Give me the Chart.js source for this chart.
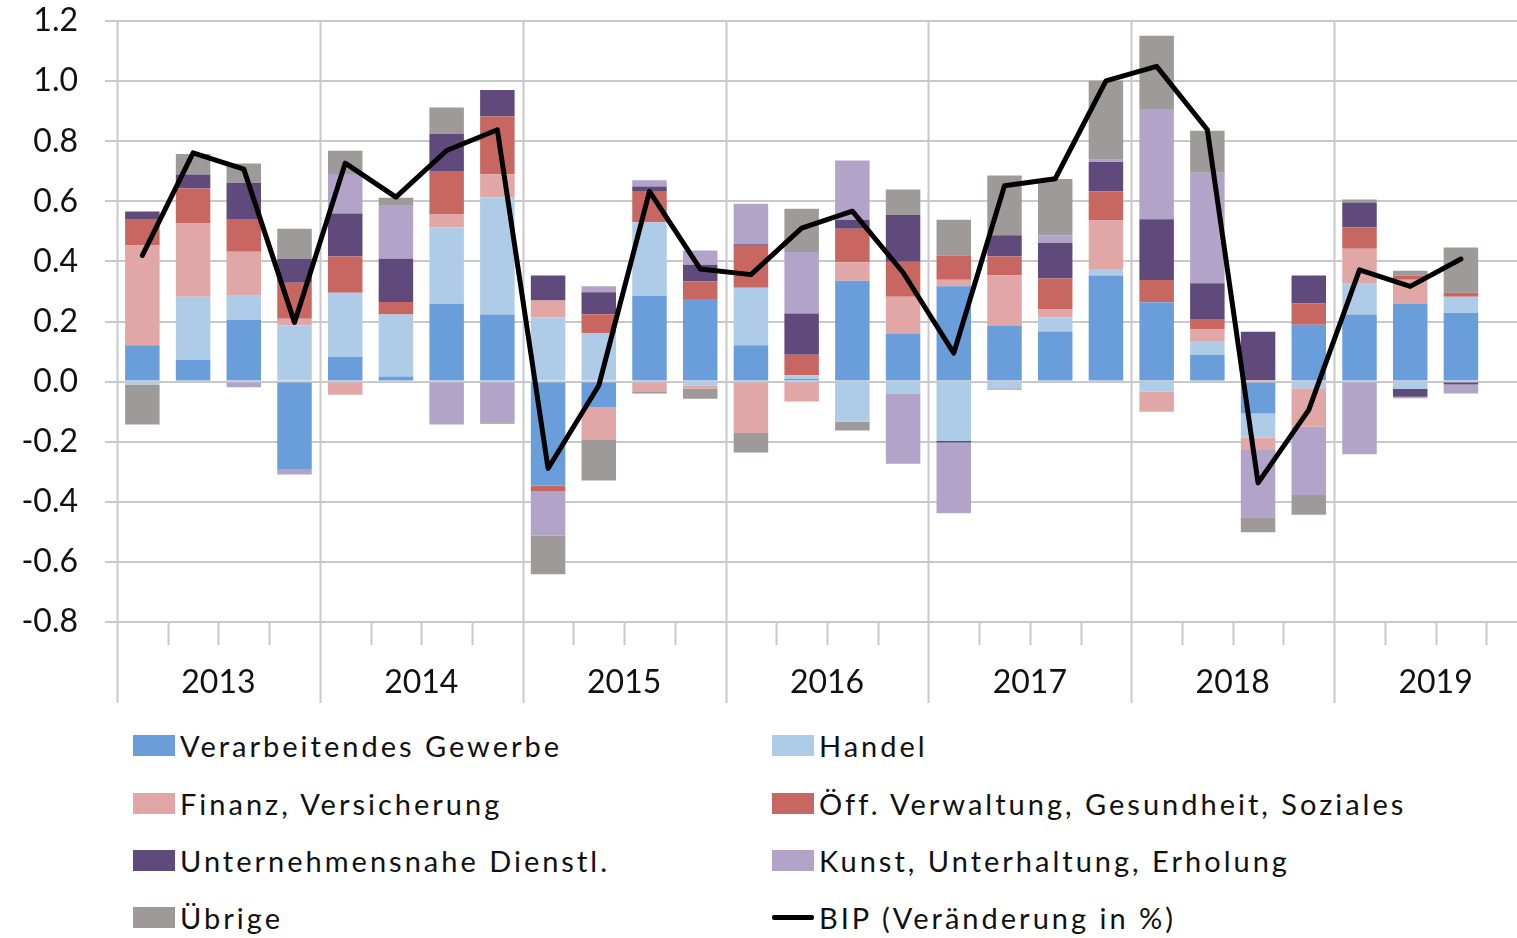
<!DOCTYPE html>
<html>
<head>
<meta charset="utf-8">
<script src="https://cdn.jsdelivr.net/npm/chart.js@4.4.1/dist/chart.umd.min.js"></script>
<style>
  html, body { margin: 0; padding: 0; background: #fff; overflow: hidden; width: 1517px; height: 938px; }
  #wrap { position: relative; width: 1545px; height: 712px; }
  #legend {
    position: absolute; left: 133px; top: 717px;
    display: grid; grid-template-columns: 639px auto; grid-auto-rows: 57.4px;
    font-family: Lato, "Open Sans", sans-serif; font-size: 29px; color: #111; letter-spacing: 3px;
  }
  .item { display: flex; align-items: center; white-space: nowrap; }
  .sw { width: 42px; height: 21px; margin-right: 5px; flex: none; }
  .sw.line { height: 5px; background: #000; border-radius: 2px; }
</style>
</head>
<body>
<div id="wrap"><canvas id="chart" width="1545" height="712"></canvas></div>
<div id="legend"></div>
<script>
// Quartale 2013 Q1 bis 2019 Q4 (Q4 2019 noch leer)
const years = ["2013", "2014", "2015", "2016", "2017", "2018", "2019"];
const quarters = [];
years.forEach(y => { for (let q = 1; q <= 4; q++) quarters.push(y + " Q" + q); });

// Wachstumsbeiträge in Prozentpunkten
const verarbeitendes = [0.121, 0.073, 0.206, -0.293, 0.083, 0.017, 0.259, 0.223, -0.346, -0.086, 0.286, 0.275, 0.121, 0.009, 0.336, 0.160, 0.317, 0.187, 0.167, 0.353, 0.264, 0.089, -0.106, 0.189, 0.223, 0.260, 0.228, null];
const handel = [-0.010, 0.209, 0.080, 0.187, 0.213, 0.206, 0.254, 0.390, 0.214, 0.162, 0.244, -0.013, 0.191, 0.012, -0.134, -0.041, -0.198, -0.022, 0.047, 0.022, -0.033, 0.046, -0.080, -0.022, 0.105, -0.025, 0.054, null];
const finanz = [0.332, 0.244, 0.146, 0.022, -0.044, 0, 0.043, 0.077, 0.056, -0.106, -0.035, -0.010, -0.171, -0.066, 0.061, 0.122, 0.022, 0.167, 0.026, 0.161, -0.067, 0.038, -0.042, -0.128, 0.114, 0.079, 0, null];
const oeffentlich = [0.088, 0.117, 0.109, 0.120, 0.120, 0.042, 0.145, 0.192, -0.020, 0.062, 0.104, 0.058, 0.140, 0.068, 0.112, 0.117, 0.081, 0.062, 0.103, 0.097, 0.074, 0.035, 0.005, 0.071, 0.072, 0.014, 0.014, null];
const dienstl = [0.025, 0.046, 0.121, 0.080, 0.143, 0.144, 0.124, 0.088, 0.083, 0.073, 0.015, 0.056, 0.005, 0.138, 0.030, 0.155, -0.005, 0.071, 0.118, 0.098, 0.202, 0.119, 0.161, 0.093, 0.082, -0.025, -0.010, null];
const kunst = [0, 0, -0.019, -0.016, 0.132, 0.179, -0.143, -0.135, -0.146, 0.020, 0.021, 0.047, 0.135, 0.204, 0.197, -0.232, -0.235, -0.005, 0.026, 0.007, 0.367, 0.368, -0.223, -0.227, -0.242, -0.005, -0.030, null];
const uebrige = [-0.133, 0.068, 0.064, 0.100, 0.077, 0.024, 0.087, -0.005, -0.129, -0.137, -0.005, -0.034, -0.065, 0.144, -0.029, 0.085, 0.119, 0.199, 0.187, 0.263, 0.244, 0.140, -0.050, -0.066, 0.010, 0.016, 0.150, null];
const bip = [0.420, 0.761, 0.707, 0.197, 0.727, 0.614, 0.769, 0.838, -0.289, -0.013, 0.633, 0.375, 0.356, 0.511, 0.567, 0.363, 0.095, 0.652, 0.675, 1.001, 1.049, 0.838, -0.337, -0.094, 0.372, 0.317, 0.408, null];

const yTicks = [-0.8, -0.6, -0.4, -0.2, 0.0, 0.2, 0.4, 0.6, 0.8, 1.0, 1.2];

const gridColor = "#c9c9c9";
const fontFamily = "Lato, 'Open Sans', sans-serif";

const barSeries = [
  { label: "Verarbeitendes Gewerbe", data: verarbeitendes, color: "#6a9edb" },
  { label: "Handel", data: handel, color: "#aecce8" },
  { label: "Finanz, Versicherung", data: finanz, color: "#e0a7a6" },
  { label: "Öff. Verwaltung, Gesundheit, Soziales", data: oeffentlich, color: "#c86662" },
  { label: "Unternehmensnahe Dienstl.", data: dienstl, color: "#604a7b" },
  { label: "Kunst, Unterhaltung, Erholung", data: kunst, color: "#b2a3c8" },
  { label: "Übrige", data: uebrige, color: "#9e9a99" },
];

const datasets = barSeries.map(s => ({
  type: "bar",
  label: s.label,
  data: s.data,
  backgroundColor: s.color,
  borderWidth: 0,
  stack: "beitraege",
  order: 1,
  barPercentage: 0.68,
  categoryPercentage: 1.0,
}));
datasets.push({
  type: "line",
  label: "BIP (Veränderung in %)",
  data: bip,
  borderColor: "#000",
  borderWidth: 5,
  pointRadius: 0,
  borderJoinStyle: "round",
  borderCapStyle: "round",
  tension: 0,
  stack: "bip",
  order: 0,
});

// Jahresachse: Trennlinien, Quartalsstriche, Jahreszahlen
const yearAxis = {
  id: "yearAxis",
  beforeDatasetsDraw(chart) {
    const { ctx, chartArea } = chart;
    const x = chart.scales.x;
    const step = x.getPixelForValue(1) - x.getPixelForValue(0);
    const edge = i => x.getPixelForValue(0) - step / 2 + i * step;
    const bottom = chartArea.bottom;
    ctx.save();
    ctx.strokeStyle = gridColor;
    ctx.lineWidth = 2;
    for (let i = 0; i <= quarters.length; i++) {
      const px = Math.round(edge(i)) + 0.5;
      ctx.beginPath();
      if (i % 4 === 0) {
        ctx.moveTo(px, chartArea.top);
        ctx.lineTo(px, bottom + 81);
      } else {
        ctx.moveTo(px, bottom);
        ctx.lineTo(px, bottom + 23);
      }
      ctx.stroke();
    }
    ctx.fillStyle = "#111";
    ctx.font = "32px " + fontFamily;
    ctx.textAlign = "center";
    ctx.textBaseline = "middle";
    years.forEach((y, k) => {
      ctx.fillText(y, (edge(k * 4) + edge(k * 4 + 4)) / 2, bottom + 61);
    });
    ctx.restore();
  }
};

const ctx = document.getElementById("chart").getContext("2d");
const chart = new Chart(ctx, {
  data: { labels: quarters, datasets },
  options: {
    responsive: false,
    animation: false,
    layout: { padding: { top: 21, right: 8, bottom: 9, left: 0 } },
    plugins: { legend: { display: false }, tooltip: { enabled: false } },
    scales: {
      x: {
        type: "category",
        stacked: true,
        offset: true,
        grid: { display: false },
        border: { display: false },
        ticks: { display: false },
        afterFit: s => { s.height = 81; },
      },
      y: {
        stacked: true,
        min: -0.8,
        max: 1.2,
        afterBuildTicks: s => { s.ticks = yTicks.map(v => ({ value: v })); },
        afterFit: s => { s.width = 117; s.paddingTop = 0; s.paddingBottom = 0; },
        grid: { color: gridColor, lineWidth: 2, tickLength: 12, tickColor: gridColor },
        border: { display: false },
        ticks: {
          padding: 27,
          color: "#111",
          font: { family: fontFamily, size: 32 },
          callback: v => v.toFixed(1),
        },
      },
    },
  },
  plugins: [yearAxis],
});

// Legende als HTML, zwei Spalten wie im Original
const legend = document.getElementById("legend");
chart.data.datasets.forEach(d => {
  const item = document.createElement("div");
  item.className = "item";
  const sw = document.createElement("span");
  if (d.type === "line") {
    sw.className = "sw line";
  } else {
    sw.className = "sw";
    sw.style.background = d.backgroundColor;
  }
  item.appendChild(sw);
  item.appendChild(document.createTextNode(d.label));
  legend.appendChild(item);
});
</script>
</body>
</html>
